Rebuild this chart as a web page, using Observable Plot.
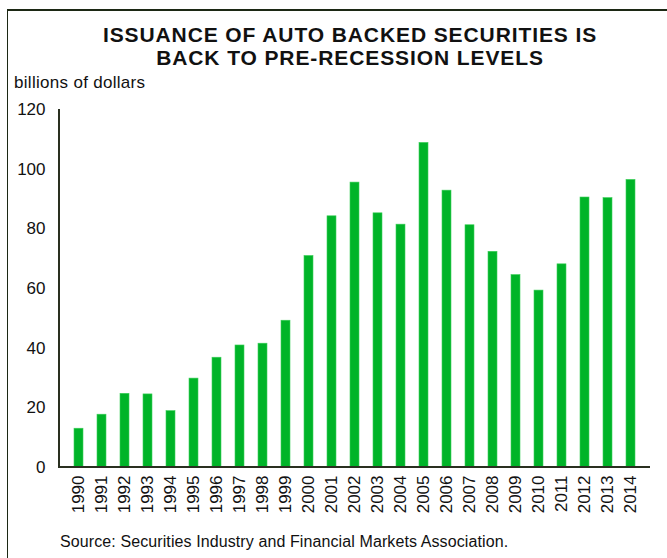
<!DOCTYPE html>
<html>
<head>
<meta charset="utf-8">
<script src="https://cdn.jsdelivr.net/npm/d3@7"></script>
<script src="https://cdn.jsdelivr.net/npm/@observablehq/plot@0.6"></script>
<style>
  html, body { margin: 0; padding: 0; background: #fff; }
  #wrap { position: relative; width: 667px; height: 558px; overflow: hidden; font-family: "Liberation Sans", Arial, sans-serif; }
  #frame { position: absolute; left: 7px; top: 9px; width: 700px; height: 600px; border-top: 2px solid #1c2814; border-left: 1.5px solid #1c2814; box-sizing: border-box; }
  #chart { position: absolute; left: 0; top: 0; }
</style>
</head>
<body>
<div id="wrap">
  <div id="frame"></div>
  <div id="chart"></div>
</div>
<script>
const years = ["1990","1991","1992","1993","1994","1995","1996","1997","1998","1999","2000","2001","2002","2003","2004","2005","2006","2007","2008","2009","2010","2011","2012","2013","2014"];
const issuance = [13.0, 17.7, 24.7, 24.5, 18.9, 29.8, 36.8, 40.9, 41.5, 49.2, 70.9, 84.2, 95.5, 85.2, 81.4, 108.8, 92.8, 81.2, 72.3, 64.5, 59.3, 68.1, 90.5, 90.3, 96.4];
const yTicks = [0, 20, 40, 60, 80, 100, 120];
const titleLines = ["ISSUANCE OF AUTO BACKED SECURITIES IS", "BACK TO PRE-RECESSION LEVELS"];
const unitLabel = "billions of dollars";
const sourceText = "Source: Securities Industry and Financial Markets Association.";

const data = years.map((y, i) => ({year: y, value: issuance[i]}));

const plot = Plot.plot({
  width: 667,
  height: 558,
  marginTop: 109,
  marginBottom: 91,
  marginLeft: 59,
  marginRight: 17,
  style: {fontFamily: "'Liberation Sans', Arial, sans-serif", fontSize: "17px", color: "#111", background: "transparent", overflow: "visible"},
  x: {domain: years, paddingInner: 0.6, paddingOuter: 0.3, label: null},
  y: {domain: [0, 120], label: null},
  marks: [
    Plot.barY(data, {x: "year", y: "value", fill: "#00b428", stroke: "#3ccf5a", strokeWidth: 0.6}),
    Plot.axisY({ticks: yTicks, tickSize: 0, tickPadding: 14, label: null, fontSize: 17}),
    Plot.axisX({tickSize: 0, tickPadding: 8, tickRotate: -90, label: null, fontSize: 17})
  ]
});
document.getElementById("chart").appendChild(plot);

(function () {
  const svg = d3.select(plot);
  svg.selectAll("text").attr("font-size", 17).style("font-size", "17px")
    .style("font-family", "'Liberation Sans', Arial, sans-serif").style("fill", "#111");
  const xr = plot.scale("x").range;
  const yr = plot.scale("y").range;
  const xLeft = Math.min(...xr), xRight = Math.max(...xr);
  const yBottom = Math.max(...yr), yTop = Math.min(...yr);
  svg.append("line").attr("x1", xLeft).attr("x2", xLeft).attr("y1", yTop).attr("y2", yBottom + 1)
    .attr("stroke", "#2a3020").attr("stroke-width", 2);
  svg.append("line").attr("x1", xLeft - 1).attr("x2", xRight).attr("y1", yBottom).attr("y2", yBottom)
    .attr("stroke", "#2a3020").attr("stroke-width", 2);

  const tg = svg.append("g").attr("font-family", "'Liberation Sans', Arial, sans-serif").attr("fill", "#111").attr("text-anchor", "start");
  tg.append("text").attr("x", 350).attr("y", 42).attr("text-anchor", "middle").style("font-size", "21px")
    .attr("font-weight", "bold").attr("letter-spacing", "0.9px").text(titleLines[0]);
  tg.append("text").attr("x", 350).attr("y", 65).attr("text-anchor", "middle").style("font-size", "21px")
    .attr("font-weight", "bold").attr("letter-spacing", "0.9px").text(titleLines[1]);
  tg.append("text").attr("x", 14).attr("y", 88).attr("text-anchor", "start").style("font-size", "17px")
    .attr("letter-spacing", "0.3px").text(unitLabel);
  tg.append("text").attr("x", 60).attr("y", 547).attr("text-anchor", "start").style("font-size", "16px")
    .attr("letter-spacing", "0.1px").text(sourceText);
})();
</script>
</body>
</html>
